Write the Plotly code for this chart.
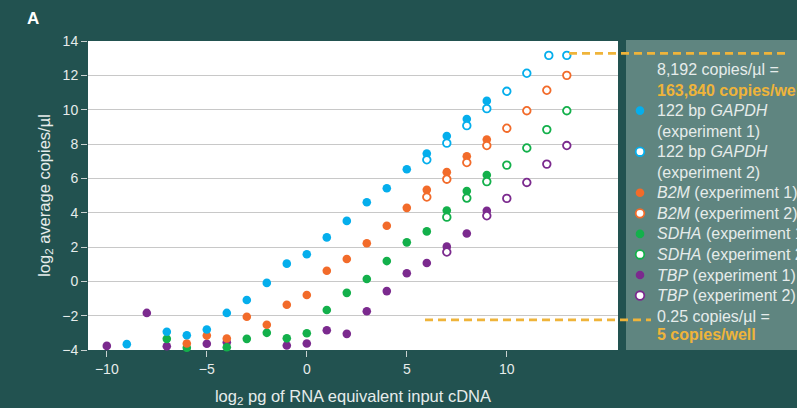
import plotly.graph_objects as go

# ---------------- data ----------------
gapdh1_x = [-9, -7, -6, -5, -4, -3, -2, -1, 0, 1, 2, 3, 4, 5, 6, 7, 8, 9]
gapdh1_y = [-3.66, -2.94, -3.14, -2.81, -1.84, -1.09, -0.09, 1.03, 1.58, 2.56,
            3.52, 4.61, 5.42, 6.53, 7.44, 8.47, 9.46, 10.51]
gapdh2_x = [6, 7, 8, 9, 10, 11, 12.1, 13]
gapdh2_y = [7.08, 8.05, 9.07, 10.06, 11.07, 12.12, 13.16, 13.16]

b2m1_x = [-6, -5, -4, -3, -2, -1, 0, 1, 2, 3, 4, 5, 6, 7, 8, 9]
b2m1_y = [-3.62, -3.16, -3.33, -2.06, -2.53, -1.36, -0.80, 0.62, 1.30, 2.22,
          3.24, 4.28, 5.33, 6.36, 7.29, 8.26]
b2m2_x = [6, 7, 8, 9, 10, 11, 12, 13]
b2m2_y = [4.91, 5.95, 6.92, 7.91, 8.92, 9.94, 11.13, 12.00]

sdha1_x = [-7, -6, -4, -3, -2, -1, 0, 1, 2, 3, 4, 5, 6, 7, 8, 9]
sdha1_y = [-3.35, -3.87, -3.84, -3.35, -3.00, -3.32, -3.02, -1.67, -0.67, 0.14,
           1.18, 2.27, 2.91, 4.13, 5.26, 6.19]
sdha2_x = [7, 8, 9, 10, 11, 12, 13]
sdha2_y = [3.74, 4.85, 5.81, 6.77, 7.77, 8.84, 9.94]

tbp1_x = [-10, -8, -7, -5, -4, -1, 0, 1, 2, 3, 4, 5, 6, 7, 8, 9]
tbp1_y = [-3.76, -1.84, -3.78, -3.64, -3.55, -3.74, -3.62, -2.85, -3.06, -1.74,
          -0.57, 0.47, 1.07, 2.02, 2.79, 4.11]
tbp2_x = [7, 9, 10, 11, 12, 13]
tbp2_y = [1.71, 3.82, 4.83, 5.76, 6.83, 7.91]

upper_limit_y = 13.28    # 8,192 copies/µl line
lower_limit_y = -2.24    # 0.25 copies/µl line

x_ticks = [-10, -5, 0, 5, 10]
y_ticks = [-4, -2, 0, 2, 4, 6, 8, 10, 12, 14]

legend_lines = [
    ("8,192 copies/µl =", "text"),
    ("163,840 copies/well", "yellow"),
    ("122 bp <i>GAPDH</i>", "text"),
    ("(experiment 1)", "text"),
    ("122 bp <i>GAPDH</i>", "text"),
    ("(experiment 2)", "text"),
    ("<i>B2M</i> (experiment 1)", "text"),
    ("<i>B2M</i> (experiment 2)", "text"),
    ("<i>SDHA</i> (experiment 1)", "text"),
    ("<i>SDHA</i> (experiment 2)", "text"),
    ("<i>TBP</i> (experiment 1)", "text"),
    ("<i>TBP</i> (experiment 2)", "text"),
    ("0.25 copies/µl =", "text"),
    ("5 copies/well", "yellow"),
]

# ---------------- styling ----------------
BLUE = "#05AEEC"
ORANGE = "#F26B2A"
GREEN = "#13B04B"
PURPLE = "#7B2A8E"
BG = "#225250"
PANEL = "#5F8580"
TXT = "#E6ECEB"
YELLOW = "#EFB43A"
FONT = "Liberation Sans, Arial, sans-serif"

W, H = 797, 408
ML, MR, MT, MB = 88, 179, 41, 58
PW = W - ML - MR
PH = H - MT - MB


def px_to_paper_x(px):
    return (px - ML) / PW


def px_to_paper_y(py):
    return (H - MB - py) / PH


fig = go.Figure()

series = [
    (tbp1_x, tbp1_y, PURPLE, False, "TBP (experiment 1)"),
    (tbp2_x, tbp2_y, PURPLE, True, "TBP (experiment 2)"),
    (sdha1_x, sdha1_y, GREEN, False, "SDHA (experiment 1)"),
    (sdha2_x, sdha2_y, GREEN, True, "SDHA (experiment 2)"),
    (b2m1_x, b2m1_y, ORANGE, False, "B2M (experiment 1)"),
    (b2m2_x, b2m2_y, ORANGE, True, "B2M (experiment 2)"),
    (gapdh1_x, gapdh1_y, BLUE, False, "122 bp GAPDH (experiment 1)"),
    (gapdh2_x, gapdh2_y, BLUE, True, "122 bp GAPDH (experiment 2)"),
]
for xs, ys, col, hollow, name in series:
    if hollow:
        marker = dict(size=7.6, color="white", line=dict(color=col, width=1.8))
    else:
        marker = dict(size=8.6, color=col, line=dict(width=0))
    fig.add_trace(go.Scatter(x=xs, y=ys, mode="markers", marker=marker,
                             name=name, showlegend=False, cliponaxis=False))

shapes = []
# legend panel
shapes.append(dict(type="rect", xref="paper", yref="paper",
                   x0=px_to_paper_x(626), x1=px_to_paper_x(820),
                   y0=0, y1=px_to_paper_y(40),
                   fillcolor=PANEL, line=dict(width=0), layer="above"))
# dashed limit lines
shapes.append(dict(type="line", xref="paper", yref="y",
                   x0=px_to_paper_x(569), x1=px_to_paper_x(786),
                   y0=upper_limit_y, y1=upper_limit_y,
                   line=dict(color=YELLOW, width=2.8, dash="8px,5px")))
shapes.append(dict(type="line", xref="paper", yref="y",
                   x0=px_to_paper_x(425), x1=px_to_paper_x(651),
                   y0=lower_limit_y, y1=lower_limit_y,
                   line=dict(color=YELLOW, width=2.8, dash="8px,5px")))

# legend symbols
line_y0 = 69.5
line_step = 20.55
sym_lines = {2: (BLUE, False), 4: (BLUE, True), 6: (ORANGE, False), 7: (ORANGE, True),
             8: (GREEN, False), 9: (GREEN, True), 10: (PURPLE, False), 11: (PURPLE, True)}
for idx, (col, hollow) in sym_lines.items():
    yc = px_to_paper_y(line_y0 + idx * line_step)
    shapes.append(dict(type="circle", xref="paper", yref="paper",
                       xsizemode="pixel", ysizemode="pixel",
                       xanchor=px_to_paper_x(640), yanchor=yc,
                       x0=-4.3, x1=4.3, y0=-4.3, y1=4.3,
                       fillcolor="white" if hollow else col,
                       line=dict(color=col, width=1.8 if hollow else 0)))

annotations = [dict(text="<b>A</b>", x=px_to_paper_x(33), y=px_to_paper_y(18),
                    xref="paper", yref="paper", showarrow=False,
                    xanchor="center", yanchor="middle",
                    font=dict(family=FONT, size=17, color="white"))]
for i, (txt, kind) in enumerate(legend_lines):
    py = line_y0 + i * line_step
    if i == 13:
        py = line_y0 + 12 * line_step + 18
    if kind == "yellow":
        txt = "<b>" + txt + "</b>"
    annotations.append(dict(text=txt, x=px_to_paper_x(655), y=px_to_paper_y(py),
                            xref="paper", yref="paper", xanchor="left", yanchor="middle",
                            showarrow=False,
                            font=dict(family=FONT, size=16,
                                      color=YELLOW if kind == "yellow" else TXT)))

fig.update_layout(
    width=W, height=H,
    margin=dict(l=ML, r=MR, t=MT, b=MB, autoexpand=False),
    paper_bgcolor=BG, plot_bgcolor="white",
    font=dict(family=FONT, color=TXT),
    shapes=shapes, annotations=annotations, showlegend=False,
    xaxis=dict(range=[-10.94, 15.56], tickvals=x_ticks, showgrid=False, zeroline=False,
               ticks="outside", ticklen=6, tickwidth=1.2, tickcolor="#C9D2D0",
               tickfont=dict(family=FONT, size=14, color=TXT), showline=False,
               title=dict(text="log<sub>2</sub> pg of RNA equivalent input cDNA",
                          font=dict(family=FONT, size=16.5, color=TXT), standoff=14)),
    yaxis=dict(range=[-4, 14], tickvals=y_ticks, showgrid=True, gridcolor="#C8C8C8",
               gridwidth=1.3, zeroline=False,
               ticks="outside", ticklen=6, tickwidth=1.2, tickcolor="#C9D2D0",
               tickfont=dict(family=FONT, size=14, color=TXT), showline=False,
               title=dict(text="log<sub>2</sub> average copies/µl",
                          font=dict(family=FONT, size=16.5, color=TXT), standoff=7)),
)

fig.write_html("out.html", post_script="document.body.style.margin='0px';",
               config={"displayModeBar": False})
